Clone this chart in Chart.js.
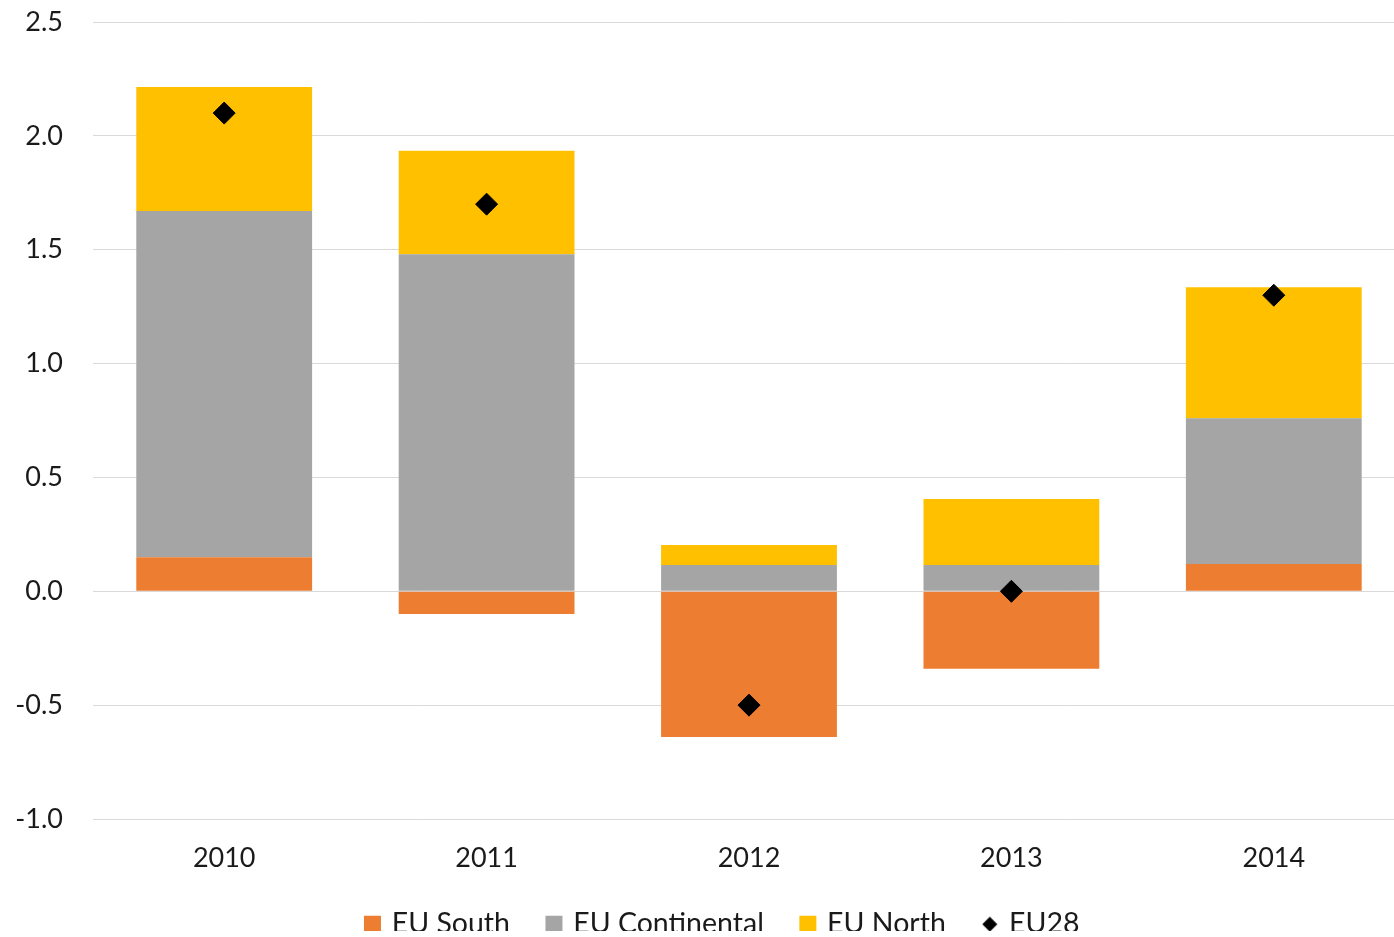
<!DOCTYPE html>
<html>
<head>
<meta charset="utf-8">
<title>EU contributions</title>
<script src="https://cdn.jsdelivr.net/npm/chart.js@4/dist/chart.umd.min.js"></script>
<style>
    html, body { margin: 0; padding: 0; background: #fff; overflow: hidden; }
    #chart { display: block; width: 1394px; height: 937px; }
</style>
</head>
<body>
<canvas id="chart" width="1394" height="937"></canvas>
<script>
// --- DATOS ---
const years = ['2010', '2011', '2012', '2013', '2014'];
const euSouth = [0.15, -0.10, -0.64, -0.34, 0.12];
const euContinental = [1.52, 1.48, 0.115, 0.115, 0.64];
const euNorth = [0.545, 0.455, 0.088, 0.29, 0.575];
const eu28 = [2.10, 1.70, -0.50, 0.00, 1.30];
const yTicks = [-1.0, -0.5, 0.0, 0.5, 1.0, 1.5, 2.0, 2.5];

// --- ESTILOS ---
const colors = {
    south: '#ED7D31',
    continental: '#A5A5A5',
    north: '#FFC000',
    eu28: '#000000',
    grid: '#d9d9d9',
    text: '#1a1a1a'
};
const fontFamily = 'Lato, "Open Sans", sans-serif';
const fontSize = 27;
const legendFontSize = 28.5;
const leftPad = 53;       // margen izquierdo del lienzo (centra la leyenda)
const plotLeft = 93;      // borde izquierdo del área de trazado
const rightOverflow = 23; // el área de trazado sigue más allá del borde derecho

// ancho de la etiqueta más larga del eje Y (para alinear a la derecha en x≈63)
const measureCtx = document.createElement('canvas').getContext('2d');
measureCtx.font = fontSize + 'px ' + fontFamily;
const widestY = Math.max(...yTicks.map(v => measureCtx.measureText(v.toFixed(1)).width));

// rombo pequeño para la leyenda de EU28
const legendDiamond = document.createElement('canvas');
legendDiamond.width = 16;
legendDiamond.height = 16;
(function() {
    const c = legendDiamond.getContext('2d');
    c.fillStyle = colors.eu28;
    c.beginPath();
    c.moveTo(8, 0.5);
    c.lineTo(15.5, 8);
    c.lineTo(8, 15.5);
    c.lineTo(0.5, 8);
    c.closePath();
    c.fill();
})();

function barSet(label, data, color) {
    return {
        type: 'bar',
        label: label,
        data: data,
        backgroundColor: color,
        borderWidth: 0,
        stack: 'eu',
        order: 1,
        categoryPercentage: 1,
        barPercentage: 0.67
    };
}

// Extiende el área de trazado hacia la derecha, fuera del lienzo
const extendRight = {
    id: 'extendRight',
    afterLayout(chart) {
        const x = chart.scales.x;
        x.right += rightOverflow;
        x.width += rightOverflow;
        chart.chartArea.right += rightOverflow;
        chart.chartArea.width += rightOverflow;
        x.configure();
        x._labelItems = null;
    }
};

const ctx = document.getElementById('chart').getContext('2d');
new Chart(ctx, {
    data: {
        labels: years,
        datasets: [
            barSet('EU South', euSouth, colors.south),
            barSet('EU Continental', euContinental, colors.continental),
            barSet('EU North', euNorth, colors.north),
            {
                type: 'line',
                label: 'EU28',
                data: eu28,
                showLine: false,
                order: 0,
                pointStyle: 'rectRot',
                pointRadius: 11,
                pointHoverRadius: 11,
                pointBackgroundColor: colors.eu28,
                pointBorderColor: colors.eu28,
                pointBorderWidth: 1,
                backgroundColor: colors.eu28,
                borderColor: colors.eu28
            }
        ]
    },
    plugins: [extendRight],
    options: {
        responsive: false,
        maintainAspectRatio: false,
        animation: false,
        layout: { padding: { left: leftPad, top: 22, right: 0, bottom: 6 } },
        scales: {
            x: {
                stacked: true,
                grid: { display: false, drawTicks: false },
                border: { display: false },
                ticks: { color: colors.text, font: { family: fontFamily, size: fontSize }, padding: 23 },
                afterFit: function(scale) {
                    scale.height = 52;
                    scale.paddingLeft = 0;
                    scale.paddingRight = 0;
                }
            },
            y: {
                stacked: true,
                min: yTicks[0],
                max: yTicks[yTicks.length - 1],
                afterBuildTicks: function(scale) {
                    scale.ticks = yTicks.map(v => ({ value: v }));
                },
                grid: { color: colors.grid, lineWidth: 1, drawTicks: false },
                border: { display: false },
                ticks: {
                    color: colors.text,
                    font: { family: fontFamily, size: fontSize },
                    mirror: true,
                    crossAlign: 'far',
                    padding: -30 - widestY,
                    callback: v => Number(v).toFixed(1)
                },
                afterFit: function(scale) {
                    scale.width = plotLeft - leftPad;
                    scale.paddingTop = 0;
                    scale.paddingBottom = 0;
                }
            }
        },
        plugins: {
            tooltip: { enabled: false },
            legend: {
                position: 'bottom',
                maxHeight: 60,
                labels: {
                    color: colors.text,
                    font: { family: fontFamily, size: legendFontSize },
                    usePointStyle: true,
                    boxWidth: 10,
                    boxHeight: 17,
                    padding: 39,
                    sort: (a, b) => a.datasetIndex - b.datasetIndex,
                    generateLabels: function(chart) {
                        const items = Chart.defaults.plugins.legend.labels.generateLabels(chart);
                        items.forEach(item => {
                            item.pointStyle = item.datasetIndex === 3 ? legendDiamond : 'rect';
                            item.lineWidth = 0;
                        });
                        return items;
                    }
                }
            }
        }
    }
});
</script>
</body>
</html>
